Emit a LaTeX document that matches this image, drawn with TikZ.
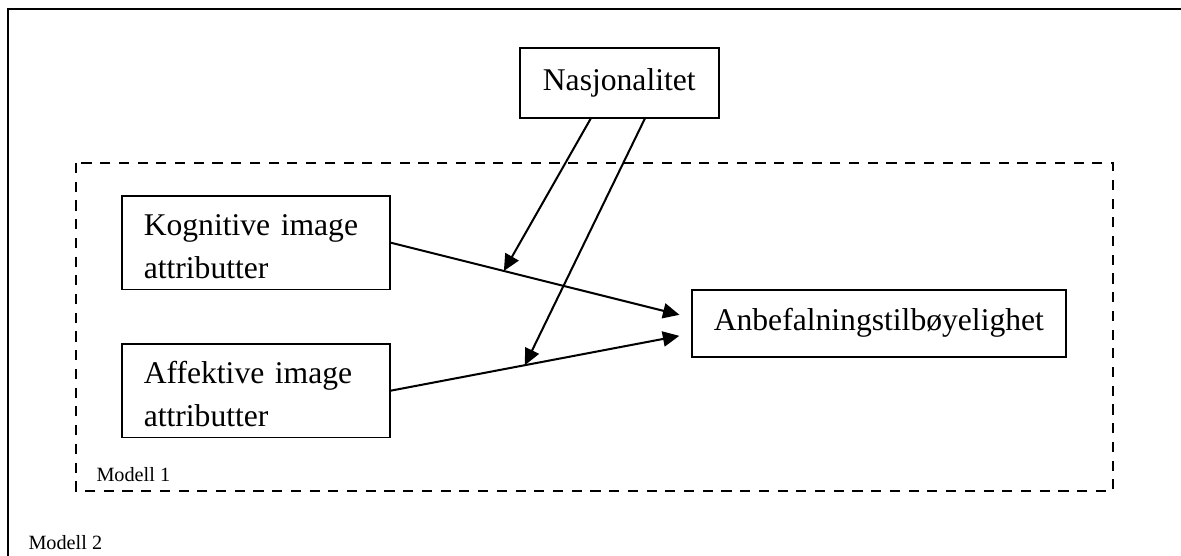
\documentclass[tikz,border=0pt]{standalone}
\usepackage{fontspec}
\setmainfont{Liberation Serif}
\usetikzlibrary{arrows.meta}
\begin{document}
\begin{tikzpicture}
        [x=0.3953pt,y=-0.3953pt,
         box/.style={draw,line width=0.6pt,inner xsep=8.7pt,
                     font=\fontsize{12.5}{17}\selectfont},
         twoline/.style={box,anchor=north west,align=left,text width=88.6pt,
                         inner ysep=0pt,text height=15.8pt,text depth=21.3pt},
         link/.style={-{Triangle[length=6.5pt,width=6pt]},line width=0.8pt},
         modelframe/.style={line width=0.8pt,dash pattern=on 4pt off 3.4pt},
         tag/.style={anchor=base west,inner sep=0pt,font=\fontsize{8}{10}\selectfont}]
        \useasboundingbox (0,0) rectangle (1181,556);

        % outer frame (Modell 2)
        \draw[line width=1pt] (1190,9) -- (8,9) -- (8,570);
        \node[tag] (m2) at (28,550) {Modell 2};

        % inner frame (Modell 1)
        \draw[modelframe] (76,163) rectangle (1113,491);
        \node[tag] (m1) at (96,482) {Modell 1};

        \node[box,anchor=north west,minimum width=78.7pt,minimum height=27.7pt] (nas) at (519,47) {Nasjonalitet};
        \node[twoline] (kog) at (121,195) {Kognitive image\\attributter};
        \node[twoline] (aff) at (121,343) {Affektive image\\attributter};
        \node[box,anchor=north west,minimum height=26.5pt] (anb) at (691,289) {Anbefalningstilbøyelighet};

        \draw[link,shorten >=4.7pt] (kog.east) -- ([yshift=2.2pt]anb.west) coordinate[pos=0.377] (kmid);
        \draw[link,shorten >=4.7pt] (aff.east) -- ([yshift=-4.1pt]anb.west) coordinate[pos=0.447] (amid);

        \draw[link] ([xshift=-11.3pt]nas.south) -- (kmid);
        \draw[link] ([xshift=10.1pt]nas.south) -- (amid);
\end{tikzpicture}
\end{document}
